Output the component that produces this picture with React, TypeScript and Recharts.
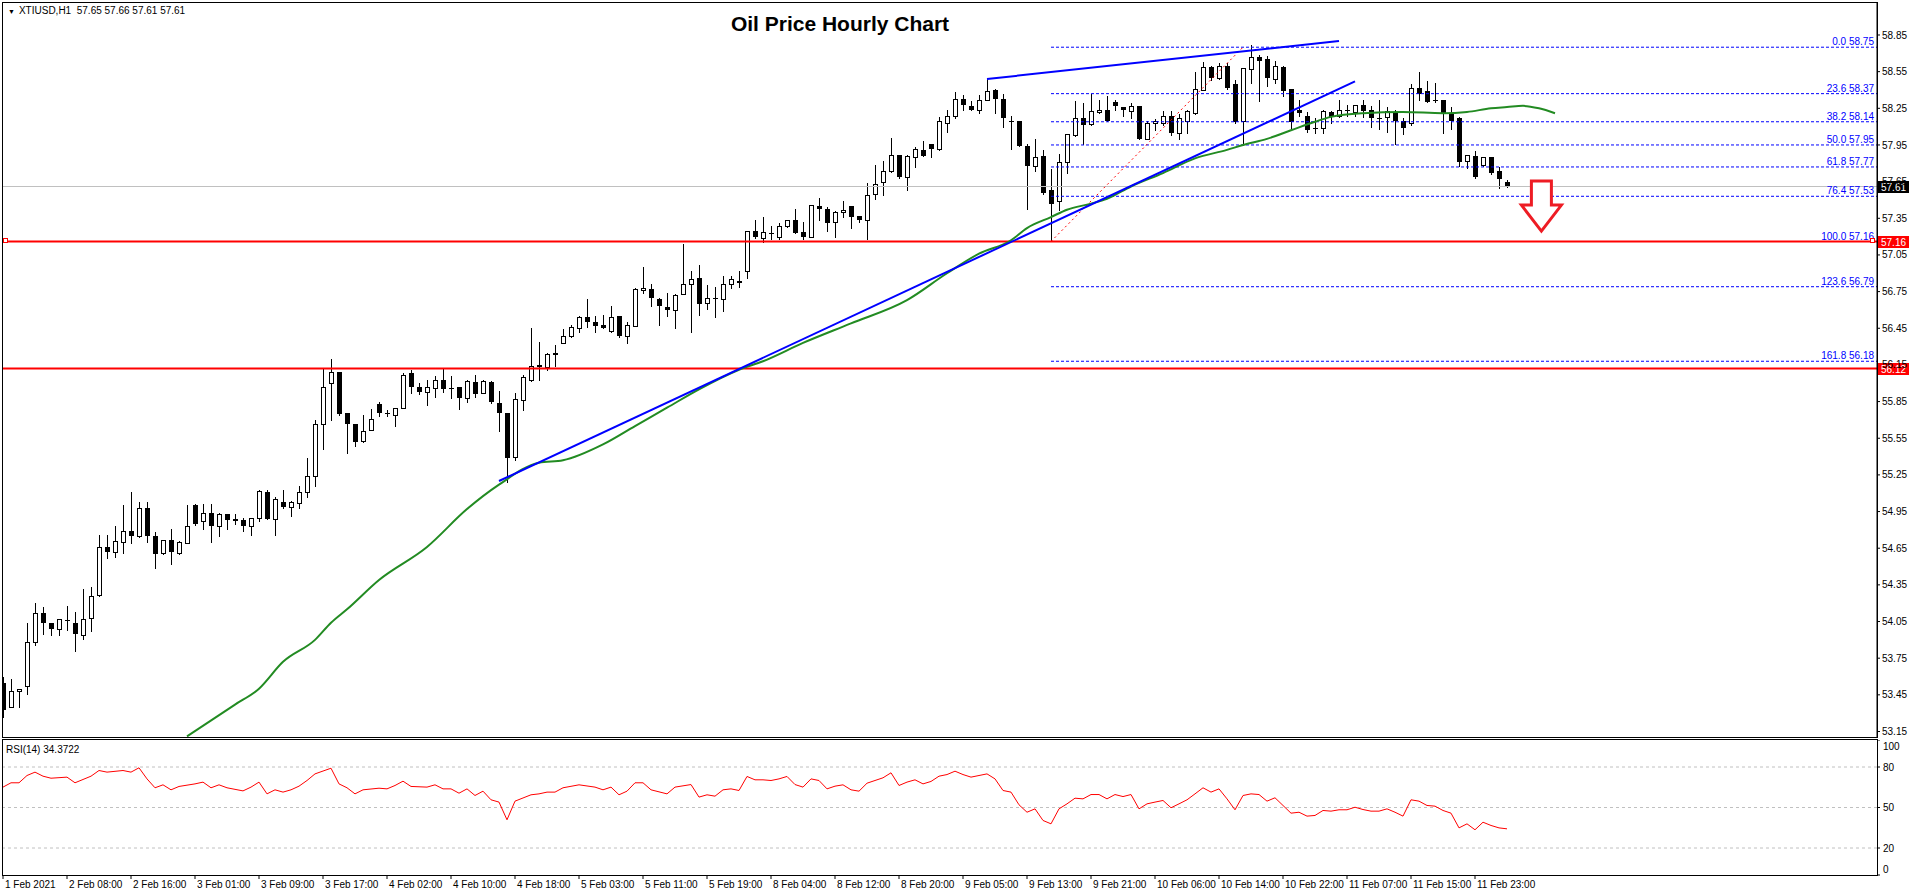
import React from 'react';
import {
  ComposedChart,
  LineChart,
  Bar,
  Line,
  XAxis,
  YAxis,
  ReferenceLine,
  ReferenceDot,
} from 'recharts';

// hourly candles, XTIUSD H1
const opens = [
  53.55, 53.35, 53.48, 53.52, 53.88, 54.12, 54.04, 53.99, 54.06, 54.04, 53.94, 54.08, 54.27, 54.66, 54.62, 54.70,
  54.79, 54.75, 54.98, 54.75, 54.61, 54.72, 54.61, 54.69, 55.00, 54.87, 54.94, 54.83, 54.93, 54.89, 54.88, 54.83,
  54.90, 55.11, 54.89, 55.03, 54.99, 55.02, 55.11, 55.24, 55.67, 56.00, 56.09, 55.76, 55.67, 55.53, 55.62, 55.83,
  55.76, 55.74, 55.80, 56.08, 55.97, 55.93, 55.96, 56.03, 55.965, 55.97, 55.88, 56.01, 55.92, 56.01, 55.84, 55.76,
  55.40, 55.86, 56.03, 56.15, 56.13, 56.25, 56.33, 56.39, 56.45, 56.54, 56.50, 56.48, 56.43, 56.55, 56.39, 56.47,
  56.76, 56.77, 56.69, 56.62, 56.60, 56.73, 56.81, 56.86, 56.66, 56.70, 56.69, 56.81, 56.83, 56.92, 57.25, 57.19,
  57.23, 57.20, 57.29, 57.34, 57.24, 57.20, 57.45, 57.43, 57.32, 57.40, 57.45, 57.37, 57.34, 57.55, 57.65, 57.74,
  57.87, 57.69, 57.85, 57.91, 57.96, 57.92, 58.13, 58.19, 58.33, 58.27, 58.24, 58.32, 58.40, 58.33, 58.15, 58.15,
  57.94, 57.78, 57.86, 57.58, 57.49, 57.81, 58.03, 58.17, 58.12, 58.22, 58.24, 58.30, 58.26, 58.23, 58.27, 58.00,
  58.13, 58.13, 58.19, 58.05, 58.15, 58.21, 58.40, 58.59, 58.50, 58.60, 58.45, 58.15, 58.57, 58.67, 58.65, 58.49,
  58.59, 58.41, 58.24, 58.19, 58.085, 58.09, 58.22, 58.19, 58.235, 58.22, 58.28, 58.24, 58.17, 58.18, 58.21, 58.15,
  58.13, 58.42, 58.39, 58.315, 58.32, 58.21, 58.17, 57.82, 57.86, 57.79, 57.85, 57.74, 57.65,
];
const highs = [
  53.60, 53.58, 53.50, 54.04, 54.20, 54.17, 54.04, 54.07, 54.18, 54.13, 54.32, 54.33, 54.76, 54.76, 54.83, 55.00,
  55.11, 55.03, 55.03, 54.78, 54.72, 54.81, 54.71, 55.00, 55.01, 55.01, 55.01, 54.94, 54.93, 54.93, 54.90, 54.90,
  55.13, 55.13, 55.07, 55.13, 55.04, 55.16, 55.39, 55.70, 56.12, 56.20, 56.09, 55.76, 55.67, 55.74, 55.79, 55.85,
  55.78, 55.80, 56.08, 56.11, 56.00, 56.03, 56.06, 56.12, 56.06, 55.97, 56.03, 56.07, 56.03, 56.02, 55.94, 55.76,
  55.92, 56.07, 56.45, 56.34, 56.25, 56.31, 56.44, 56.48, 56.55, 56.69, 56.55, 56.56, 56.63, 56.55, 56.50, 56.78,
  56.95, 56.81, 56.70, 56.74, 56.73, 57.14, 56.92, 56.97, 56.80, 56.79, 56.88, 56.88, 56.92, 57.25, 57.34, 57.36,
  57.29, 57.31, 57.34, 57.43, 57.32, 57.46, 57.52, 57.44, 57.41, 57.49, 57.45, 57.37, 57.64, 57.79, 57.82, 58.01,
  57.87, 57.87, 57.93, 57.98, 57.96, 58.18, 58.24, 58.38, 58.36, 58.31, 58.36, 58.50, 58.41, 58.37, 58.19, 58.15,
  57.96, 58.00, 57.91, 57.75, 57.88, 58.04, 58.31, 58.29, 58.37, 58.32, 58.35, 58.32, 58.26, 58.29, 58.27, 58.15,
  58.16, 58.23, 58.23, 58.20, 58.24, 58.55, 58.63, 58.60, 58.62, 58.62, 58.48, 58.58, 58.77, 58.69, 58.68, 58.64,
  58.60, 58.41, 58.32, 58.22, 58.17, 58.24, 58.23, 58.32, 58.28, 58.28, 58.32, 58.27, 58.32, 58.26, 58.24, 58.17,
  58.45, 58.55, 58.47, 58.46, 58.32, 58.26, 58.18, 57.87, 57.90, 57.85, 57.85, 57.77, 57.66,
];
const lows = [
  53.27, 53.35, 53.35, 53.46, 53.86, 53.95, 53.94, 53.94, 53.98, 53.81, 53.91, 53.97, 54.26, 54.57, 54.58, 54.61,
  54.69, 54.74, 54.70, 54.49, 54.60, 54.52, 54.60, 54.69, 54.84, 54.81, 54.70, 54.75, 54.81, 54.85, 54.79, 54.76,
  54.87, 54.89, 54.76, 54.98, 54.91, 54.98, 55.07, 55.16, 55.46, 55.70, 55.74, 55.43, 55.49, 55.52, 55.62, 55.73,
  55.73, 55.65, 55.80, 55.92, 55.91, 55.82, 55.89, 55.93, 55.88, 55.79, 55.85, 55.89, 55.92, 55.84, 55.61, 55.19,
  55.37, 55.78, 56.02, 56.03, 56.11, 56.14, 56.33, 56.38, 56.42, 56.46, 56.42, 56.45, 56.42, 56.38, 56.33, 56.47,
  56.74, 56.63, 56.48, 56.55, 56.45, 56.73, 56.42, 56.56, 56.61, 56.54, 56.59, 56.78, 56.79, 56.86, 57.19, 57.16,
  57.18, 57.18, 57.28, 57.23, 57.18, 57.20, 57.34, 57.25, 57.20, 57.36, 57.27, 57.32, 57.18, 57.51, 57.54, 57.73,
  57.68, 57.58, 57.77, 57.86, 57.85, 57.91, 58.06, 58.17, 58.24, 58.24, 58.21, 58.32, 58.21, 58.10, 57.92, 57.94,
  57.43, 57.74, 57.55, 57.17, 57.42, 57.72, 58.02, 57.96, 58.11, 58.21, 58.15, 58.24, 58.19, 58.17, 58.00, 58.00,
  58.07, 58.11, 58.03, 58.00, 58.05, 58.20, 58.40, 58.48, 58.49, 58.41, 58.13, 57.95, 58.46, 58.31, 58.43, 58.46,
  58.35, 58.09, 58.19, 58.06, 58.05, 58.05, 58.13, 58.18, 58.19, 58.19, 58.18, 58.10, 58.08, 58.06, 57.96, 58.04,
  58.11, 58.32, 58.30, 58.30, 58.05, 58.08, 57.78, 57.76, 57.68, 57.78, 57.71, 57.60, 57.61,
];
const closes = [
  53.33, 53.48, 53.50, 53.88, 54.12, 54.04, 53.99, 54.07, 54.06, 53.95, 54.07, 54.26, 54.66, 54.62, 54.71, 54.79,
  54.75, 54.98, 54.75, 54.60, 54.72, 54.62, 54.70, 54.83, 54.85, 54.94, 54.83, 54.93, 54.88, 54.87, 54.83, 54.90,
  55.12, 54.89, 55.05, 54.99, 55.03, 55.11, 55.24, 55.67, 55.97, 56.09, 55.75, 55.67, 55.52, 55.61, 55.71, 55.76,
  55.75, 55.80, 56.07, 55.97, 55.93, 55.97, 56.03, 55.95, 55.96, 55.88, 56.02, 55.91, 56.02, 55.85, 55.76, 55.39,
  55.87, 56.05, 56.14, 56.13, 56.24, 56.23, 56.39, 56.46, 56.54, 56.50, 56.47, 56.45, 56.54, 56.39, 56.48, 56.77,
  56.78, 56.70, 56.63, 56.60, 56.72, 56.81, 56.85, 56.65, 56.70, 56.69, 56.81, 56.85, 56.84, 57.25, 57.20, 57.24,
  57.22, 57.29, 57.34, 57.23, 57.20, 57.46, 57.43, 57.31, 57.40, 57.42, 57.36, 57.34, 57.54, 57.63, 57.74, 57.87,
  57.69, 57.86, 57.92, 57.86, 57.92, 58.15, 58.19, 58.33, 58.28, 58.24, 58.32, 58.39, 58.33, 58.17, 58.14, 57.94,
  57.78, 57.85, 57.56, 57.47, 57.81, 58.04, 58.17, 58.11, 58.23, 58.24, 58.15, 58.27, 58.24, 58.27, 58.00, 58.13,
  58.145, 58.19, 58.05, 58.17, 58.23, 58.41, 58.59, 58.50, 58.60, 58.42, 58.14, 58.58, 58.67, 58.64, 58.50, 58.60,
  58.39, 58.14, 58.21, 58.07, 58.08, 58.23, 58.18, 58.24, 58.23, 58.28, 58.23, 58.17, 58.165, 58.23, 58.15, 58.09,
  58.42, 58.37, 58.30, 58.31, 58.21, 58.15, 57.81, 57.87, 57.69, 57.85, 57.72, 57.67, 57.61,
];

// moving average (green), [bar, value]
const maPoints: [number, number][] = [
  [23, 53.11], [29, 53.37], [32, 53.5], [35, 53.72], [39, 53.9], [41, 54.04], [43, 54.15], [47, 54.39],
  [53, 54.66], [58, 54.97], [62, 55.17], [67, 55.35], [70, 55.37], [75, 55.5], [79, 55.65], [83, 55.8],
  [87, 55.95], [92, 56.11], [95, 56.18], [100, 56.33], [106, 56.49], [113, 56.68], [118, 56.9], [122, 57.06],
  [126, 57.17], [128, 57.27], [131, 57.36], [133, 57.42], [136, 57.47], [138, 57.51], [141, 57.61], [145, 57.72],
  [149, 57.84], [153, 57.91], [155, 57.95], [158, 58.0], [161, 58.07], [164, 58.14], [166, 58.18], [170, 58.21],
  [175, 58.22], [180, 58.21], [183, 58.22], [186, 58.25], [188, 58.26], [190, 58.27], [192, 58.25], [194, 58.21],
];

// RSI(14), [bar, value]
const rsiPoints: [number, number][] = [
  [0, 65.1], [1, 68.3], [2, 68.3], [3, 73.7], [4, 76.2], [5, 73.2], [6, 71.7], [8, 72.5], [9, 68.3], [11, 73.2],
  [12, 77.4], [13, 76.2], [15, 77.4], [16, 76.2], [17, 79.4], [18, 71.2], [19, 64.6], [20, 66.8], [21, 63.1],
  [22, 65.6], [24, 67.5], [25, 68.8], [26, 64.6], [27, 66.8], [28, 64.6], [30, 62.3], [31, 65.1], [32, 68.8],
  [33, 60.1], [34, 63.1], [35, 61.4], [36, 63.1], [37, 65.8], [38, 70.0], [39, 74.9], [41, 79.1], [42, 67.5],
  [43, 64.6], [44, 60.1], [45, 63.1], [47, 64.3], [48, 63.8], [49, 66.3], [50, 69.5], [51, 65.6], [53, 65.1],
  [54, 66.8], [55, 63.8], [56, 63.8], [57, 60.6], [58, 63.8], [59, 58.9], [60, 62.1], [61, 55.7], [62, 54.0],
  [63, 40.9], [64, 54.7], [66, 59.4], [67, 60.1], [68, 61.4], [69, 61.4], [70, 64.6], [72, 66.8], [74, 65.1],
  [75, 63.1], [76, 65.1], [77, 59.4], [78, 62.1], [79, 68.3], [80, 68.3], [81, 63.1], [83, 60.1], [84, 65.1],
  [86, 67.0], [87, 57.7], [88, 59.4], [89, 58.4], [90, 63.1], [91, 63.8], [92, 62.6], [93, 73.0], [94, 70.5],
  [95, 70.5], [96, 70.0], [97, 71.2], [98, 73.0], [99, 67.0], [100, 65.1], [101, 71.2], [102, 70.0], [103, 63.8],
  [104, 65.8], [105, 66.8], [106, 63.1], [107, 62.1], [108, 68.0], [110, 72.0], [111, 75.7], [112, 66.3],
  [113, 68.8], [114, 70.5], [115, 67.5], [116, 69.3], [117, 73.2], [118, 74.4], [119, 76.9], [120, 74.4],
  [121, 72.5], [122, 73.7], [123, 74.9], [124, 71.2], [125, 62.6], [126, 61.4], [127, 52.0], [128, 46.5],
  [129, 49.0], [130, 40.4], [131, 37.9], [132, 49.0], [133, 52.7], [134, 56.9], [135, 56.4], [136, 59.6],
  [137, 59.6], [138, 56.4], [139, 59.6], [140, 58.1], [141, 59.6], [142, 49.0], [143, 52.7], [144, 54.0],
  [145, 55.2], [146, 49.8], [147, 52.7], [148, 55.7], [149, 60.1], [150, 64.6], [151, 61.4], [152, 63.8],
  [153, 56.4], [154, 48.3], [155, 58.9], [156, 60.1], [157, 59.6], [158, 54.7], [159, 57.2], [160, 51.5],
  [161, 45.8], [162, 46.5], [163, 43.6], [164, 44.1], [165, 47.8], [166, 47.3], [167, 48.3], [168, 48.3],
  [169, 50.2], [170, 48.5], [171, 47.3], [172, 47.3], [173, 49.0], [174, 46.5], [175, 43.6], [176, 55.7],
  [177, 54.7], [178, 51.5], [179, 51.0], [180, 47.8], [181, 45.8], [182, 34.9], [183, 37.9], [184, 33.5],
  [185, 39.1], [186, 36.7], [187, 34.9], [188, 34.2],
];

const timeLabels = [
  '1 Feb 2021', '2 Feb 08:00', '2 Feb 16:00', '3 Feb 01:00', '3 Feb 09:00', '3 Feb 17:00', '4 Feb 02:00',
  '4 Feb 10:00', '4 Feb 18:00', '5 Feb 03:00', '5 Feb 11:00', '5 Feb 19:00', '8 Feb 04:00', '8 Feb 12:00',
  '8 Feb 20:00', '9 Feb 05:00', '9 Feb 13:00', '9 Feb 21:00', '10 Feb 06:00', '10 Feb 14:00', '10 Feb 22:00',
  '11 Feb 07:00', '11 Feb 15:00', '11 Feb 23:00',
];
const barsPerLabel = 8;

const priceTicks = [
  58.85, 58.55, 58.25, 57.95, 57.65, 57.35, 57.05, 56.75, 56.45, 56.15, 55.85, 55.55, 55.25, 54.95, 54.65, 54.35,
  54.05, 53.75, 53.45, 53.15,
];
const rsiTicks = [0, 20, 50, 80, 100];
const rsiLevels = [20, 50, 80];

const fibLevels = [
  { pct: '0.0', price: 58.75 },
  { pct: '23.6', price: 58.37 },
  { pct: '38.2', price: 58.14 },
  { pct: '50.0', price: 57.95 },
  { pct: '61.8', price: 57.77 },
  { pct: '76.4', price: 57.53 },
  { pct: '100.0', price: 57.16 },
  { pct: '123.6', price: 56.79 },
  { pct: '161.8', price: 56.18 },
];
const fibFrom = { bar: 131, low: 57.16, topBar: 155, high: 58.75 };
const support = [57.16, 56.12];
const bid = 57.61;
const lowerTrend = [{ x: 62, y: 55.2 }, { x: 169, y: 58.47 }];
const upperTrend = [{ x: 123, y: 58.49 }, { x: 167, y: 58.8 }];
const arrowAt = { bar: 192.3, price: 57.45 };

const X_DOMAIN: [number, number] = [-0.125, 234.25];
const FONT = '"Liberation Sans", Arial, sans-serif';

const maMap = new Map(maPoints);
const rsiMap = new Map(rsiPoints);
const priceData = Array.from({ length: 195 }, (_, i) => ({
  i,
  candle: i < opens.length ? [lows[i], highs[i]] : null,
  open: opens[i],
  high: highs[i],
  low: lows[i],
  close: closes[i],
  ma: maMap.get(i) ?? null,
}));
const rsiData = closes.map((_, i) => ({ i, rsi: rsiMap.get(i) ?? null }));
const timeTicks = timeLabels.map((_, k) => k * barsPerLabel);

const Candle = (props: any) => {
  const { x, y, width, height, payload } = props;
  if (!payload || payload.open == null || !Number.isFinite(x) || !Number.isFinite(y)) return null;
  const { open, close, high, low } = payload;
  const cx = Math.round(x + width / 2);
  const yTop = Math.min(y, y + height);
  const h = Math.abs(height);
  const span = high - low;
  const py = (p: number) => (span > 0 ? yTop + ((high - p) / span) * h : yTop);
  const top = Math.round(py(Math.max(open, close)));
  const bot = Math.round(py(Math.min(open, close)));
  const bull = close > open;
  return (
    <g>
      <line x1={cx + 0.5} x2={cx + 0.5} y1={Math.round(yTop)} y2={Math.round(yTop + h) + 1} stroke="#000" strokeWidth={1} />
      {bull ? (
        <rect x={cx - 1.5} y={top + 0.5} width={4} height={Math.max(bot - top, 1)} fill="#fff" stroke="#000" strokeWidth={1} />
      ) : (
        <rect x={cx - 2} y={top} width={5} height={Math.max(bot - top, 1)} fill="#000" />
      )}
    </g>
  );
};

const PriceBox = ({ cx, cy, color, text }: any) => (
  <g>
    <rect x={cx + 1} y={Math.round(cy) - 6} width={31} height={12} fill={color} />
    <text x={cx + 4} y={Math.round(cy) + 4} fontSize={10} fontFamily={FONT} fill="#fff">
      {text}
    </text>
  </g>
);

const DownArrow = ({ cx, cy }: any) => {
  const pts = [
    [cx - 10, cy - 25],
    [cx + 10, cy - 25],
    [cx + 10, cy - 1],
    [cx + 20, cy - 1],
    [cx, cy + 25],
    [cx - 20, cy - 1],
    [cx - 10, cy - 1],
  ]
    .map((p) => p.join(','))
    .join(' ');
  return <polygon points={pts} fill="#fff" stroke="#ee1c24" strokeWidth={3} strokeLinejoin="miter" />;
};

const TimeTick = ({ x, y, payload }: any) => (
  <text x={x + 2} y={y} dy="0.71em" fontSize={10} fontFamily={FONT} fill="#000">
    {timeLabels[payload.value / barsPerLabel]}
  </text>
);

const RsiTick = ({ x, y, payload }: any) => {
  const shift = payload.value === 100 ? 6 : payload.value === 0 ? -6 : 0;
  return (
    <text x={x + 1} y={y + shift} dy="0.35em" fontSize={10} fontFamily={FONT} fill="#000">
      {payload.value}
    </text>
  );
};

const abs = (left: number, top: number): React.CSSProperties => ({ position: 'absolute', left, top });

export default function App() {
  return (
    <div style={{ position: 'absolute', left: 0, top: 0, width: 1916, height: 896, background: '#fff', fontFamily: FONT, overflow: 'hidden' }}>
      <div style={abs(0, 0)}>
        <ComposedChart width={1916} height={737} data={priceData} margin={{ top: 2, right: 0, left: 2, bottom: 0 }}>
          <XAxis type="number" dataKey="i" domain={X_DOMAIN} allowDataOverflow hide />
          <YAxis
            orientation="right"
            width={39}
            domain={[53.105, 59.12]}
            allowDataOverflow
            ticks={priceTicks}
            interval={0}
            tickFormatter={(v: number) => v.toFixed(2)}
            tick={{ fontSize: 10, fontFamily: FONT, fill: '#000' }}
            tickSize={3}
            tickMargin={2}
            axisLine={{ stroke: '#000' }}
            tickLine={{ stroke: '#000' }}
          />
          <ReferenceLine y={bid} stroke="#c0c0c0" strokeWidth={1} />
          {fibLevels.map((f) => (
            <ReferenceLine
              key={f.pct}
              segment={[{ x: fibFrom.bar, y: f.price }, { x: X_DOMAIN[1], y: f.price }]}
              stroke="#0000ff"
              strokeDasharray="3 2"
              strokeWidth={1}
            />
          ))}
          {support.map((s) => (
            <ReferenceLine key={s} y={s} stroke="#ff0000" strokeWidth={2} />
          ))}
          <ReferenceLine
            segment={[{ x: fibFrom.bar, y: fibFrom.low }, { x: fibFrom.topBar, y: fibFrom.high }]}
            stroke="#ff0000"
            strokeDasharray="2 3"
            strokeWidth={1}
          />
          <Bar dataKey="candle" barSize={5} shape={Candle} isAnimationActive={false} />
          <Line type="monotone" dataKey="ma" stroke="#228b22" strokeWidth={2} dot={false} connectNulls isAnimationActive={false} />
          <ReferenceLine segment={lowerTrend} stroke="#0000ff" strokeWidth={2} />
          <ReferenceLine segment={upperTrend} stroke="#0000ff" strokeWidth={2} />
          {fibLevels.map((f) => (
            <ReferenceDot
              key={'l' + f.pct}
              x={X_DOMAIN[1]}
              y={f.price}
              r={0}
              ifOverflow="visible"
              shape={(p: any) => (
                <text x={p.cx - 3} y={Math.round(p.cy) - 2} textAnchor="end" fontSize={10} fontFamily={FONT} fill="#0000ff">
                  {`${f.pct} ${f.price.toFixed(2)}`}
                </text>
              )}
            />
          ))}
          <ReferenceDot
            x={X_DOMAIN[0]}
            y={support[0]}
            r={0}
            ifOverflow="visible"
            shape={(p: any) => <rect x={p.cx + 1.5} y={Math.round(p.cy) - 3.5} width={4} height={4} fill="#fff" stroke="#ff0000" />}
          />
          <ReferenceDot
            x={X_DOMAIN[1]}
            y={support[0]}
            r={0}
            ifOverflow="visible"
            shape={(p: any) => <rect x={p.cx - 6.5} y={Math.round(p.cy) - 3.5} width={4} height={4} fill="#fff" stroke="#ff0000" />}
          />
          <ReferenceDot x={arrowAt.bar} y={arrowAt.price} r={0} ifOverflow="visible" shape={DownArrow} />
          <ReferenceDot
            x={X_DOMAIN[1]}
            y={bid}
            r={0}
            ifOverflow="visible"
            shape={(p: any) => <PriceBox {...p} color="#000" text={bid.toFixed(2)} />}
          />
          {support.map((s) => (
            <ReferenceDot
              key={'b' + s}
              x={X_DOMAIN[1]}
              y={s}
              r={0}
              ifOverflow="visible"
              shape={(p: any) => <PriceBox {...p} color="#ff0000" text={s.toFixed(2)} />}
            />
          ))}
        </ComposedChart>
      </div>

      <div style={abs(0, 740)}>
        <LineChart width={1916} height={156} data={rsiData} margin={{ top: 0, right: 0, left: 2, bottom: 0 }}>
          <XAxis
            type="number"
            dataKey="i"
            domain={X_DOMAIN}
            allowDataOverflow
            ticks={timeTicks}
            interval={0}
            height={21}
            tick={<TimeTick />}
            tickSize={4}
            tickMargin={2}
            axisLine={false}
            tickLine={{ stroke: '#000' }}
          />
          <YAxis
            orientation="right"
            width={39}
            domain={[0, 100]}
            ticks={rsiTicks}
            interval={0}
            tick={<RsiTick />}
            tickSize={3}
            tickMargin={2}
            axisLine={false}
            tickLine={{ stroke: '#000' }}
          />
          {rsiLevels.map((l) => (
            <ReferenceLine key={l} y={l} stroke="#c0c0c0" strokeDasharray="3 3" />
          ))}
          <Line dataKey="rsi" stroke="#ff0000" strokeWidth={1} dot={false} connectNulls isAnimationActive={false} />
        </LineChart>
      </div>

      {/* panel frames */}
      <div style={{ ...abs(2, 2), width: 1876, height: 736, border: '1px solid #000', boxSizing: 'border-box', pointerEvents: 'none' }} />
      <div style={{ ...abs(2, 739), width: 1876, height: 137, border: '1px solid #000', boxSizing: 'border-box', pointerEvents: 'none' }} />

      <div style={{ ...abs(8, 5), fontSize: 10, color: '#000', whiteSpace: 'pre', lineHeight: '12px' }}>
        <span style={{ fontSize: 7, marginRight: 4 }}>▼</span>XTIUSD,H1  57.65 57.66 57.61 57.61
      </div>
      <div style={{ ...abs(640, 12), width: 400, textAlign: 'center', fontSize: 21, fontWeight: 'bold', lineHeight: '24px', color: '#000' }}>
        Oil Price Hourly Chart
      </div>
      <div style={{ ...abs(6, 744), fontSize: 10, color: '#000', lineHeight: '12px' }}>RSI(14) 34.3722</div>
    </div>
  );
}
